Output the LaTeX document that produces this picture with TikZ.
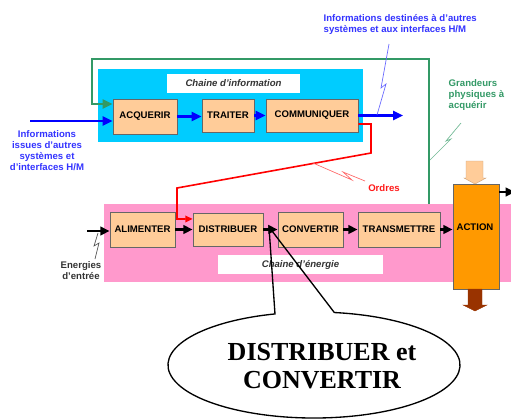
\documentclass[tikz,border=0pt]{standalone}
\usepackage{fontspec}
\setmainfont{Liberation Sans}
\newfontfamily\tnr{Liberation Serif}
\usepackage{tikz}
\usetikzlibrary{positioning,arrows.meta}
\definecolor{cyanfond}{HTML}{00CCFF}
\definecolor{rosefond}{HTML}{FF99CC}
\definecolor{bloc}{HTML}{FFCC99}
\definecolor{actionor}{HTML}{FF9900}
\definecolor{vertinfo}{HTML}{339966}
\definecolor{bleuinfo}{HTML}{0000FF}
\definecolor{bleutexte}{HTML}{3333FF}
\definecolor{brunsortie}{HTML}{993300}
\tikzset{
  % --- fonctions des chaines ------------------------------------------------
  fct/.style={draw=black!60,line width=0.6pt,fill=bloc,inner sep=0pt,
              minimum height=35*0.75pt},
  fond/.style={inner sep=0pt},
  cartouche/.style={fill=white,inner sep=0pt,minimum height=19*0.75pt,
                    font=\fontsize{7.2}{8.3}\selectfont\bfseries\itshape,
                    text=black!80},
  % --- liaisons --------------------------------------------------------------
  arb/.style={-{Triangle[length=7.5pt,width=6.8pt]},line width=1.8pt,bleuinfo},
  arn/.style={-{Triangle[length=7pt,width=6.5pt]},line width=1.6pt,black},
  arv/.style={-{Triangle[length=7.5pt,width=6.8pt]},line width=1.6pt,vertinfo},
  arr/.style={-{Triangle[length=5.5pt,width=5pt]},line width=1.2pt,red},
  eclair/.style={line width=0.5pt},
}
\begin{document}
\begin{tikzpicture}[x=0.75pt,y=-0.75pt,
    font=\fontsize{7.2}{8.3}\selectfont\bfseries]
  \useasboundingbox (0,0) rectangle (511,419);

  % fonds des deux chaines
  \node[fond,fill=cyanfond,minimum width=265*0.75pt,minimum height=73*0.75pt]
       (info) at (230.5,105.5) {};
  \node[fond,fill=rosefond,minimum width=411*0.75pt,minimum height=78*0.75pt]
       (energie) at (309.5,243) {};
  \node[cartouche,minimum width=133*0.75pt] (tinfo) at (233.5,83.5)
       {Chaine d'information};
  \node[cartouche,minimum width=165*0.75pt] (tenergie) at (300.5,264.5)
       {Chaine d'énergie};

  \node[fct,minimum width=64*0.75pt] (acq) at (145,116.5) {ACQUERIR};
  \node[fct,minimum width=52*0.75pt,minimum height=33*0.75pt] (trait)
       at (228,115.5) {TRAITER};
  \node[fct,minimum width=92*0.75pt,minimum height=33*0.75pt] (comm)
       at (312,115.5) {COMMUNIQUER};
  \node[fct,minimum width=65*0.75pt] (alim) at (142.5,229.5) {ALIMENTER};
  \node[fct,minimum width=70*0.75pt,minimum height=33*0.75pt] (dist)
       at (228,229.5) {DISTRIBUER};
  \node[fct,minimum width=65*0.75pt] (conv) at (310.5,229.5) {CONVERTIR};
  \node[fct,minimum width=82*0.75pt] (trans) at (399,229.5) {TRANSMETTRE};
  \node[fct,fill=actionor,minimum width=46*0.75pt,minimum height=105*0.75pt]
       (action) at (476,236.5) {};
  \node (taction) at (475,227) {ACTION};

  % fleches pleines au-dessus et au-dessous de l'action
  \filldraw[fill=bloc,draw=bloc!80!black,line width=0.3pt]
       (466,161) -- (483,161) -- (483,178) -- (486,178) -- (475,184)
       -- (464,178) -- (466,178) -- cycle;
  \filldraw[fill=brunsortie,draw=brunsortie,line width=0.3pt]
       (468,289) -- (482,289) -- (482,305) -- (487,305) -- (475,311)
       -- (463,305) -- (468,305) -- cycle;

  \coordinate (infoext) at (30,121);
  \coordinate (infosort) at (403,115.5);
  \draw[arb] (infoext) -- (infoext -| acq.west);
  \draw[arb] (acq.east) -- (acq.east -| trait.west);
  \draw[arb] (trait) -- (comm);
  \draw[arb] (comm) -- (infosort);

  \coordinate (grand) at (429,204);
  \coordinate (retour) at (92,59);
  \draw[arv] (grand) |- (retour) |- ([yshift=9.4pt]acq.west);

  \coordinate (coude) at (371,153);
  \coordinate (coudeb) at (177,188);
  \draw[arr] ([yshift=-6.4pt]comm.east) -| (coude) -- (coudeb)
       |- ([yshift=7.9pt]dist.west);

  \coordinate (energext) at (87,231);
  \coordinate (sortie) at (515,192);
  \draw[arn] (energext) -- (energext -| alim.west);
  \draw[arn] (alim) -- (dist);
  \draw[arn] (dist) -- (conv);
  \draw[arn] (conv) -- (trans);
  \draw[arn] (trans.east) -- (trans.east -| action.west);
  \draw[arn] (sortie -| action.east) -- (sortie);

  \node[align=center,text=bleutexte] (infoentree) at (47,151)
       {Informations\\issues d'autres\\systèmes et\\d'interfaces H/M};
  \node[align=left,text=bleutexte,anchor=west] (infodest) at (319,24.5)
       {Informations destinées à d'autres\\systèmes et aux interfaces H/M};
  \node[align=left,text=vertinfo,anchor=west] (grandeurs) at (444,95)
       {Grandeurs\\physiques à\\acquérir};
  \node[text=red!90] (ordres) at (384,188) {Ordres};
  \node[align=center,text=black!80] (energies) at (81,271) {Energies\\d'entrée};

  % eclairs
  \draw[eclair,bleuinfo!60] (389,44) -- (381,88) -- (386,84) -- (377,115);
  \draw[eclair,vertinfo!70] (461,123) -- (446,141) -- (451,139) -- (430,160);
  \draw[eclair,red!60] (313,163) -- (352,180) -- (343,172) -- (365,181);
  \draw[eclair,black!70] (98,233) -- (94,246) -- (99,243) -- (95,259);

  % bulle
  \coordinate (bulle) at (314,365);
  \coordinate (pointe) at (269,227);
  \draw[line width=1pt] (bulle) ++(105.5:109.5pt and 39.75pt)
       arc[start angle=105.5,end angle=442,x radius=109.5pt,y radius=39.75pt]
       -- (pointe) -- cycle;
  \node[font=\tnr\fontsize{19.5}{21}\selectfont\bfseries,align=center]
       (texte) at (322,366) {DISTRIBUER et\\CONVERTIR};
\end{tikzpicture}
\end{document}
